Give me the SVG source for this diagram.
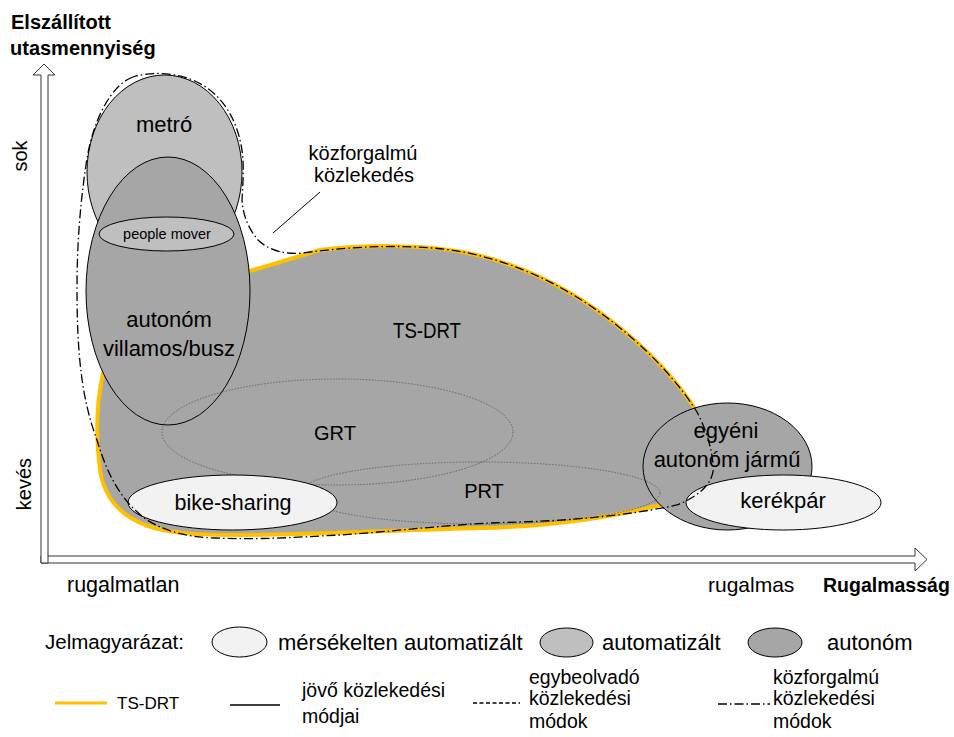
<svg xmlns="http://www.w3.org/2000/svg" width="954" height="737" viewBox="0 0 954 737">
<style>
text{font-family:"Liberation Sans",Arial,sans-serif;fill:#000}
.b{font-weight:bold}
.ell{stroke:#000;stroke-width:1}
.lt{fill:#f2f2f2}
.md{fill:#bfbfbf}
.dk{fill:#a6a6a6}
.dot{fill:none;stroke:#555;stroke-width:0.8;stroke-dasharray:1.5 1.5}
.dd{fill:none;stroke:#000;stroke-width:1.3;stroke-dasharray:9 3 1.5 3}
.ax{fill:#fff;stroke:#333;stroke-width:1}
.c{text-anchor:middle}
</style>
<rect width="954" height="737" fill="#fff"/>
<g id="axes">
<path class="ax" d="M41,556 H915 V548 L927,559.5 L915,571 V563 H41 Z"/>
<path class="ax" d="M41,563 V75 H33 L44,64 L55,75 H48 V563 Z"/>
</g>
<g id="axis-labels">
<text class="b" x="11" y="29" font-size="20">Elszállított</text>
<text class="b" x="10" y="55" font-size="20">utasmennyiség</text>
<text class="c" font-size="20" transform="translate(27,156) rotate(-90)">sok</text>
<text class="c" font-size="20" transform="translate(31,484) rotate(-90)">kevés</text>
<text x="67" y="592" font-size="21.5">rugalmatlan</text>
<text x="708" y="592" font-size="21">rugalmas</text>
<text class="b" x="823" y="592" font-size="19.5">Rugalmasság</text>
</g>
<g id="ts-drt">
<path d="M250,271 L320,250 C360,245 420,244 463,252 C520,263 575,290 625,332 C655,357 680,385 697,412 L708,460 L660,505 C600,520 540,527 480,528 C400,530 300,535 240,535 C200,535 170,534 145,525 C120,515 104,497 100,470 C96,440 95,410 103,373 L160,300 Z" fill="#a6a6a6" stroke="#ffc000" stroke-width="4" stroke-linejoin="round"/>
<text class="c" x="427" y="338" font-size="22" textLength="68" lengthAdjust="spacingAndGlyphs">TS-DRT</text>
</g>
<g id="metro">
<ellipse class="ell md" cx="164.5" cy="172" rx="77.5" ry="97"/>
<text class="c" x="164" y="132" font-size="22">metró</text>
</g>
<g id="autonom-villamos-busz">
<ellipse class="ell dk" cx="168" cy="291" rx="82" ry="134"/>
<text class="c" x="169" y="327" font-size="22">autonóm</text>
<text class="c" x="169" y="356" font-size="22">villamos/busz</text>
</g>
<g id="people-mover">
<ellipse class="ell md" cx="166.5" cy="234" rx="67.5" ry="17"/>
<text class="c" x="167" y="239" font-size="14.5">people mover</text>
</g>
<g id="egyeni-autonom-jarmu">
<ellipse class="ell dk" cx="727.5" cy="466.5" rx="84.5" ry="63.5"/>
<text class="c" x="726" y="438" font-size="22">egyéni</text>
<text class="c" x="727" y="467" font-size="22">autonóm jármű</text>
</g>
<g id="grt">
<ellipse class="dot" cx="337.5" cy="432" rx="175.5" ry="53"/>
<text class="c" x="335" y="440" font-size="20">GRT</text>
</g>
<g id="prt">
<ellipse class="dot" cx="480" cy="493" rx="180" ry="31"/>
<text class="c" x="484" y="498" font-size="20">PRT</text>
</g>
<g id="bike-sharing">
<ellipse class="ell lt" cx="232.5" cy="502.5" rx="104.5" ry="27.5"/>
<text class="c" x="233" y="510" font-size="21.5">bike-sharing</text>
</g>
<g id="kerekpar">
<ellipse class="ell lt" cx="783.5" cy="502.5" rx="97.5" ry="27.5"/>
<text class="c" x="783" y="508" font-size="22">kerékpár</text>
</g>
<g id="connectors">
<path class="dd" d="M133,77 C112,84 92,120 86,165 C80,205 77,245 77,290 C77,355 82,400 97,440 C106,470 118,497 143,517 C160,530 185,537 215,538 C260,540 300,537 340,535 C400,531 460,523 520,522 C580,520 630,515 677,505 C702,495 716,480 713,463 C711,445 705,427 697,412 C680,385 655,357 625,332 C575,290 520,263 463,252 C420,244 360,245 303,253 C285,255 268,250 258,240 C248,228 243,215 242,200 C243,180 245,160 240,140 C233,110 215,88 190,79 C170,72 150,72 133,77 Z"/>
<line x1="320" y1="192" x2="273" y2="233" stroke="#000" stroke-width="1"/>
</g>
<g id="kozforgalmu-label">
<text class="c" x="363" y="160" font-size="20">közforgalmú</text>
<text class="c" x="364" y="182" font-size="20">közlekedés</text>
</g>
<g id="legend">
<text x="45" y="649" font-size="20.5">Jelmagyarázat:</text>
<ellipse class="ell lt" cx="239.5" cy="642" rx="27.5" ry="15"/>
<text x="278" y="650" font-size="22">mérsékelten automatizált</text>
<ellipse class="ell md" cx="566.5" cy="642.5" rx="26.5" ry="14.5"/>
<text x="602" y="650" font-size="22">automatizált</text>
<ellipse class="ell dk" cx="775" cy="642.5" rx="27" ry="14.5"/>
<text x="827" y="650" font-size="22">autonóm</text>
<line x1="55" y1="703" x2="107" y2="703" stroke="#ffc000" stroke-width="3"/>
<text x="117" y="709" font-size="17">TS-DRT</text>
<line x1="230" y1="705" x2="280" y2="705" stroke="#000" stroke-width="1.3"/>
<text x="302" y="697" font-size="19.5">jövő közlekedési</text>
<text x="302" y="723" font-size="19.5">módjai</text>
<line x1="473" y1="703" x2="520" y2="703" stroke="#000" stroke-width="1.4" stroke-dasharray="4 2.5"/>
<text x="529" y="684" font-size="19.5">egybeolvadó</text>
<text x="529" y="705" font-size="19.5">közlekedési</text>
<text x="529" y="728" font-size="19.5">módok</text>
<line class="dd" x1="718" y1="704" x2="770" y2="704"/>
<text x="773" y="684" font-size="19.5">közforgalmú</text>
<text x="773" y="705" font-size="19.5">közlekedési</text>
<text x="773" y="728" font-size="19.5">módok</text>
</g>
</svg>
